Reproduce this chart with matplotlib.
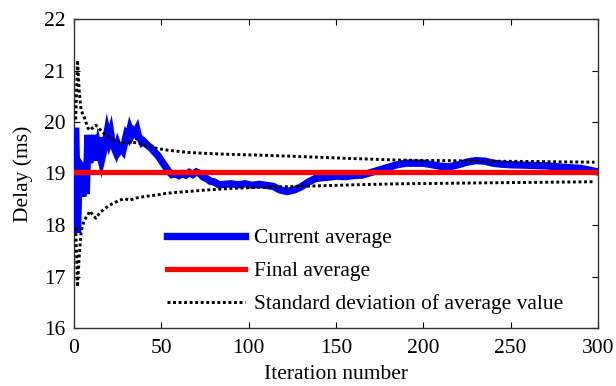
import matplotlib
matplotlib.use("Agg")
import matplotlib.pyplot as plt

# ---- data ----
cur_x = [1, 2, 3, 4, 5, 6, 7, 8, 9, 10, 11, 12, 13, 14, 15, 16, 17, 18, 19, 20,
         21, 22, 23, 24, 25, 26, 27, 28, 29, 30, 31, 32, 33, 34, 35, 36, 37, 38, 39, 40,
         42, 44, 46, 48, 50, 52, 54, 56, 58, 60, 62, 64, 66, 68, 70, 72, 74, 76, 78, 80,
         83, 86, 90, 94, 98, 102, 106, 110, 114, 118, 122, 126, 130, 134, 138, 142, 146,
         150, 155, 160, 165, 170, 175, 180, 185, 190, 195, 200, 205, 210, 215, 220, 225,
         230, 235, 240, 245, 250, 260, 270, 280, 290, 300]
cur_y = [19.82, 17.85, 19.2, 19.15, 18.55, 19.2, 18.6, 19.75, 19.2, 19.7, 19.3, 19.75,
         19.25, 19.5, 19.35, 19.7, 19.45, 19.6, 19.8, 19.65, 19.78, 19.55, 19.5, 19.42,
         19.55, 19.45, 19.5, 19.45, 19.6, 19.75, 19.7, 19.85, 19.75, 19.82, 19.78, 19.85,
         19.7, 19.68, 19.6, 19.62, 19.55, 19.5, 19.42, 19.35, 19.25, 19.15, 19.05, 18.98,
         19.0, 18.96, 19.0, 18.97, 19.02, 18.98, 19.03, 19.0, 18.93, 18.9, 18.85, 18.84,
         18.78, 18.79, 18.8, 18.78, 18.8, 18.77, 18.79, 18.77, 18.75, 18.68, 18.65, 18.68,
         18.74, 18.83, 18.9, 18.92, 18.93, 18.95, 18.94, 18.96, 18.97, 19.02, 19.07, 19.12,
         19.17, 19.2, 19.2, 19.2, 19.17, 19.14, 19.13, 19.17, 19.22, 19.25, 19.24, 19.2,
         19.18, 19.17, 19.16, 19.15, 19.12, 19.1, 19.03]

final_x = [0, 300]
final_y = [19.03, 19.03]

std_x = [1, 2, 3, 4, 5, 6, 8, 9, 12.5, 15, 17, 20, 23, 26, 29, 32, 35, 38, 42, 47,
         52, 57, 65, 76, 90, 103, 129, 160, 186, 240, 298]
std_up = [20.05, 21.2, 20.6, 20.25, 20.15, 20.08, 19.88, 19.84, 19.94, 19.85, 19.78,
          19.7, 19.65, 19.61, 19.59, 19.61, 19.6, 19.58, 19.53, 19.49, 19.46, 19.44,
          19.41, 19.39, 19.37, 19.36, 19.33, 19.29, 19.26, 19.24, 19.22]
std_lo = [17.95, 16.8, 17.4, 17.85, 18.0, 18.1, 18.2, 18.27, 18.13, 18.25, 18.3,
          18.38, 18.43, 18.48, 18.51, 18.48, 18.52, 18.54, 18.56, 18.58, 18.61, 18.63,
          18.65, 18.68, 18.71, 18.73, 18.75, 18.78, 18.80, 18.82, 18.84]

labels = ["Current average", "Final average", "Standard deviation of average value"]
x_ticks = [0, 50, 100, 150, 200, 250, 300]
y_ticks = [16, 17, 18, 19, 20, 21, 22]

# ---- figure ----
plt.rcParams['font.family'] = ['Liberation Serif', 'DejaVu Serif']
fs = 15.5
fig = plt.figure(figsize=(6.16, 3.86), dpi=100)
ax = fig.add_axes([74 / 616, 1 - 328 / 386, 524 / 616, 309 / 386])

ax.plot(cur_x, cur_y, color='#0000ff', lw=5.3, solid_joinstyle='miter', label=labels[0], zorder=3)
ax.plot(final_x, final_y, color='#ff0000', lw=3.8, label=labels[1], zorder=4)
ax.plot(std_x, std_up, color='black', lw=2.1, ls=(0, (1, 0.9)), label=labels[2], zorder=5)
ax.plot(std_x, std_lo, color='black', lw=2.1, ls=(0, (1, 0.9)), zorder=5)

ax.set_xlim(0, 300)
ax.set_ylim(16, 22)
ax.set_xticks(x_ticks)
ax.set_yticks(y_ticks)
ax.tick_params(direction='in', top=True, right=True, length=4, width=0.8,
               labelsize=fs, colors='black')
ax.tick_params(axis='x', pad=8)
ax.tick_params(axis='y', pad=6)
for s in ax.spines.values():
    s.set_linewidth(1.0)
    s.set_color('#333333')

ax.set_xlabel("Iteration number", fontsize=fs, labelpad=5)
ax.set_ylabel("Delay (ms)", fontsize=fs, labelpad=8)

leg = ax.legend(loc='lower left', bbox_to_anchor=((167 - 74) / 524, 0.045),
                frameon=False, fontsize=fs, handlelength=3.6, handletextpad=0.45,
                borderaxespad=0, borderpad=0, labelspacing=0.6)

fig.savefig("out.png", dpi=100)
